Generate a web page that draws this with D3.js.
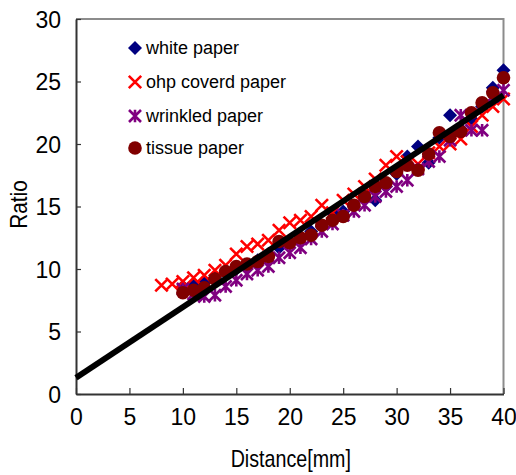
<!DOCTYPE html>
<html>
<head>
<meta charset="utf-8">
<script src="https://cdn.jsdelivr.net/npm/d3@7/dist/d3.min.js"></script>
<style>
  html, body { margin: 0; padding: 0; background: #fff; }
  svg { display: block; }
  .axisText { font-family: "Liberation Sans", Arial, sans-serif; fill: #000; }
  .legendText { font-family: "Liberation Sans", Arial, sans-serif; font-size: 18px; fill: #000; }
</style>
</head>
<body>
<svg id="chart" width="516" height="475"></svg>
<script>
// Measurement distances (mm)
const distWhite = d3.range(10, 41);
const distOhp = d3.range(8, 41);
const distWrinkled = d3.range(10, 41);
const distTissue = d3.range(10, 41);

// Ratio per paper type
const whitePaper = [8.6, 8.7, 8.9, 9.3, 9.7, 10.0, 10.3, 10.7, 11.2, 11.7, 12.2, 12.6, 13.0, 13.4, 14.5, 14.6,
  15.0, 15.6, 15.5, 16.6, 17.6, 19.0, 19.8, 18.5, 20.5, 22.3, 21.2, 22.0, 23.0, 24.5, 25.9];
const ohpPaper = [8.7, 8.8, 9.0, 9.3, 9.5, 9.9, 10.3, 11.2, 11.8, 12.0, 12.3, 13.1, 13.7, 13.9, 14.2, 15.1,
  14.5, 15.5, 16.0, 16.6, 17.2, 18.3, 19.0, 18.6, 18.4, 19.3, 19.8, 20.0, 20.4, 21.4, 22.3, 23.0, 23.6];
const wrinkledPaper = [8.4, 8.0, 7.8, 7.9, 8.6, 9.1, 9.6, 9.9, 10.2, 10.9, 11.3, 11.7, 12.4, 13.0, 13.6, 14.3,
  14.6, 15.1, 15.8, 16.2, 16.6, 17.1, 18.0, 18.6, 19.0, 20.3, 22.3, 21.1, 21.1, 23.8, 24.3];
const tissuePaper = [8.1, 8.3, 8.5, 9.2, 9.8, 10.2, 10.4, 10.6, 11.0, 12.2, 12.1, 12.5, 12.7, 13.5, 13.9, 14.2,
  15.1, 15.8, 16.6, 16.9, 17.8, 18.3, 17.9, 19.2, 20.9, 20.6, 21.0, 22.5, 23.3, 24.1, 25.3];

// Linear fit: ratio = intercept + slope * distance
const fitIntercept = 1.3;
const fitSlope = 0.565;
const fitRange = [0, 40];

const xTicks = [0, 5, 10, 15, 20, 25, 30, 35, 40];
const yTicks = [0, 5, 10, 15, 20, 25, 30];

const legendLabels = ["white paper", "ohp coverd paper", "wrinkled paper", "tissue paper"];

const svg = d3.select("#chart");
const plotLeft = 76, plotRight = 503.5, plotTop = 19, plotBottom = 394;

const x = d3.scaleLinear().domain([0, 40]).range([plotLeft, plotRight]);
const y = d3.scaleLinear().domain([0, 30]).range([plotBottom, plotTop]);

// Frame: top and right sides in grey
svg.append("path")
  .attr("d", `M${plotLeft},${plotTop}H${plotRight}V${plotBottom}`)
  .attr("fill", "none").attr("stroke", "#8c8c8c").attr("stroke-width", 2);

// Axes with inward ticks
const xAxis = svg.append("g").attr("transform", `translate(0,${plotBottom})`)
  .call(d3.axisBottom(x).tickValues(xTicks).tickSize(-6).tickSizeOuter(0).tickPadding(18));
const yAxis = svg.append("g").attr("transform", `translate(${plotLeft},0)`)
  .call(d3.axisLeft(y).tickValues(yTicks).tickSize(-5).tickSizeOuter(0).tickPadding(15));

[xAxis, yAxis].forEach(g => {
  g.select(".domain").attr("stroke", "#333").attr("stroke-width", 2);
  g.selectAll(".tick line").attr("stroke", "#333").attr("stroke-width", 1.2);
  g.selectAll(".tick text").attr("class", "axisText").style("font-size", "23px");
});
xAxis.selectAll(".tick text").attr("dy", "0.55em");
yAxis.selectAll(".tick text").attr("dy", "0.36em");

// Axis titles (horizontally condensed)
svg.append("text").attr("class", "axisText")
  .attr("transform", `translate(${(plotLeft + plotRight) / 2 + 1},467) scale(0.82,1)`)
  .attr("text-anchor", "middle").style("font-size", "24px")
  .text("Distance[mm]");
svg.append("text").attr("class", "axisText")
  .attr("transform", `translate(27,${(plotTop + plotBottom) / 2 - 2}) rotate(-90) scale(0.9,1)`)
  .attr("text-anchor", "middle").style("font-size", "23px")
  .text("Ratio");

// Marker shapes
const markers = {
  diamond: (g, s) => g.append("path").attr("d", `M0,${-s}L${s},0L0,${s}L${-s},0Z`).attr("fill", "#000080"),
  cross: (g, s) => g.append("path").attr("d", `M${-s},${-s}L${s},${s}M${-s},${s}L${s},${-s}`)
    .attr("stroke", "#ff0000").attr("stroke-width", 2.6).attr("fill", "none"),
  star: (g, s) => g.append("path").attr("d", `M${-s},${-s}L${s},${s}M${-s},${s}L${s},${-s}M0,${-s * 1.05}V${s * 1.05}`)
    .attr("stroke", "#800080").attr("stroke-width", 2.6).attr("fill", "none"),
  circle: (g, s) => g.append("circle").attr("r", s).attr("fill", "#800000")
};

const series = [
  { xs: distWhite, ys: whitePaper, shape: "diamond", size: 7 },
  { xs: distOhp, ys: ohpPaper, shape: "cross", size: 6.2 },
  { xs: distWrinkled, ys: wrinkledPaper, shape: "star", size: 6 },
  { xs: distTissue, ys: tissuePaper, shape: "circle", size: 6.8 }
];

series.forEach(s => {
  const g = svg.append("g");
  s.ys.forEach((v, i) => {
    const m = g.append("g").attr("transform", `translate(${x(s.xs[i])},${y(v)})`);
    markers[s.shape](m, s.size);
  });
});

// Fit line
svg.append("line")
  .attr("x1", x(fitRange[0])).attr("y1", y(fitIntercept + fitSlope * fitRange[0]))
  .attr("x2", x(fitRange[1])).attr("y2", y(fitIntercept + fitSlope * fitRange[1]))
  .attr("stroke", "#000").attr("stroke-width", 5.8);

// Legend
const legendY = [48, 82, 116, 148];
series.forEach((s, i) => {
  const m = svg.append("g").attr("transform", `translate(135,${legendY[i]})`);
  markers[s.shape](m, s.size);
  svg.append("text").attr("class", "legendText")
    .attr("x", 146).attr("y", legendY[i]).attr("dy", "0.35em")
    .text(legendLabels[i]);
});
</script>
</body>
</html>
